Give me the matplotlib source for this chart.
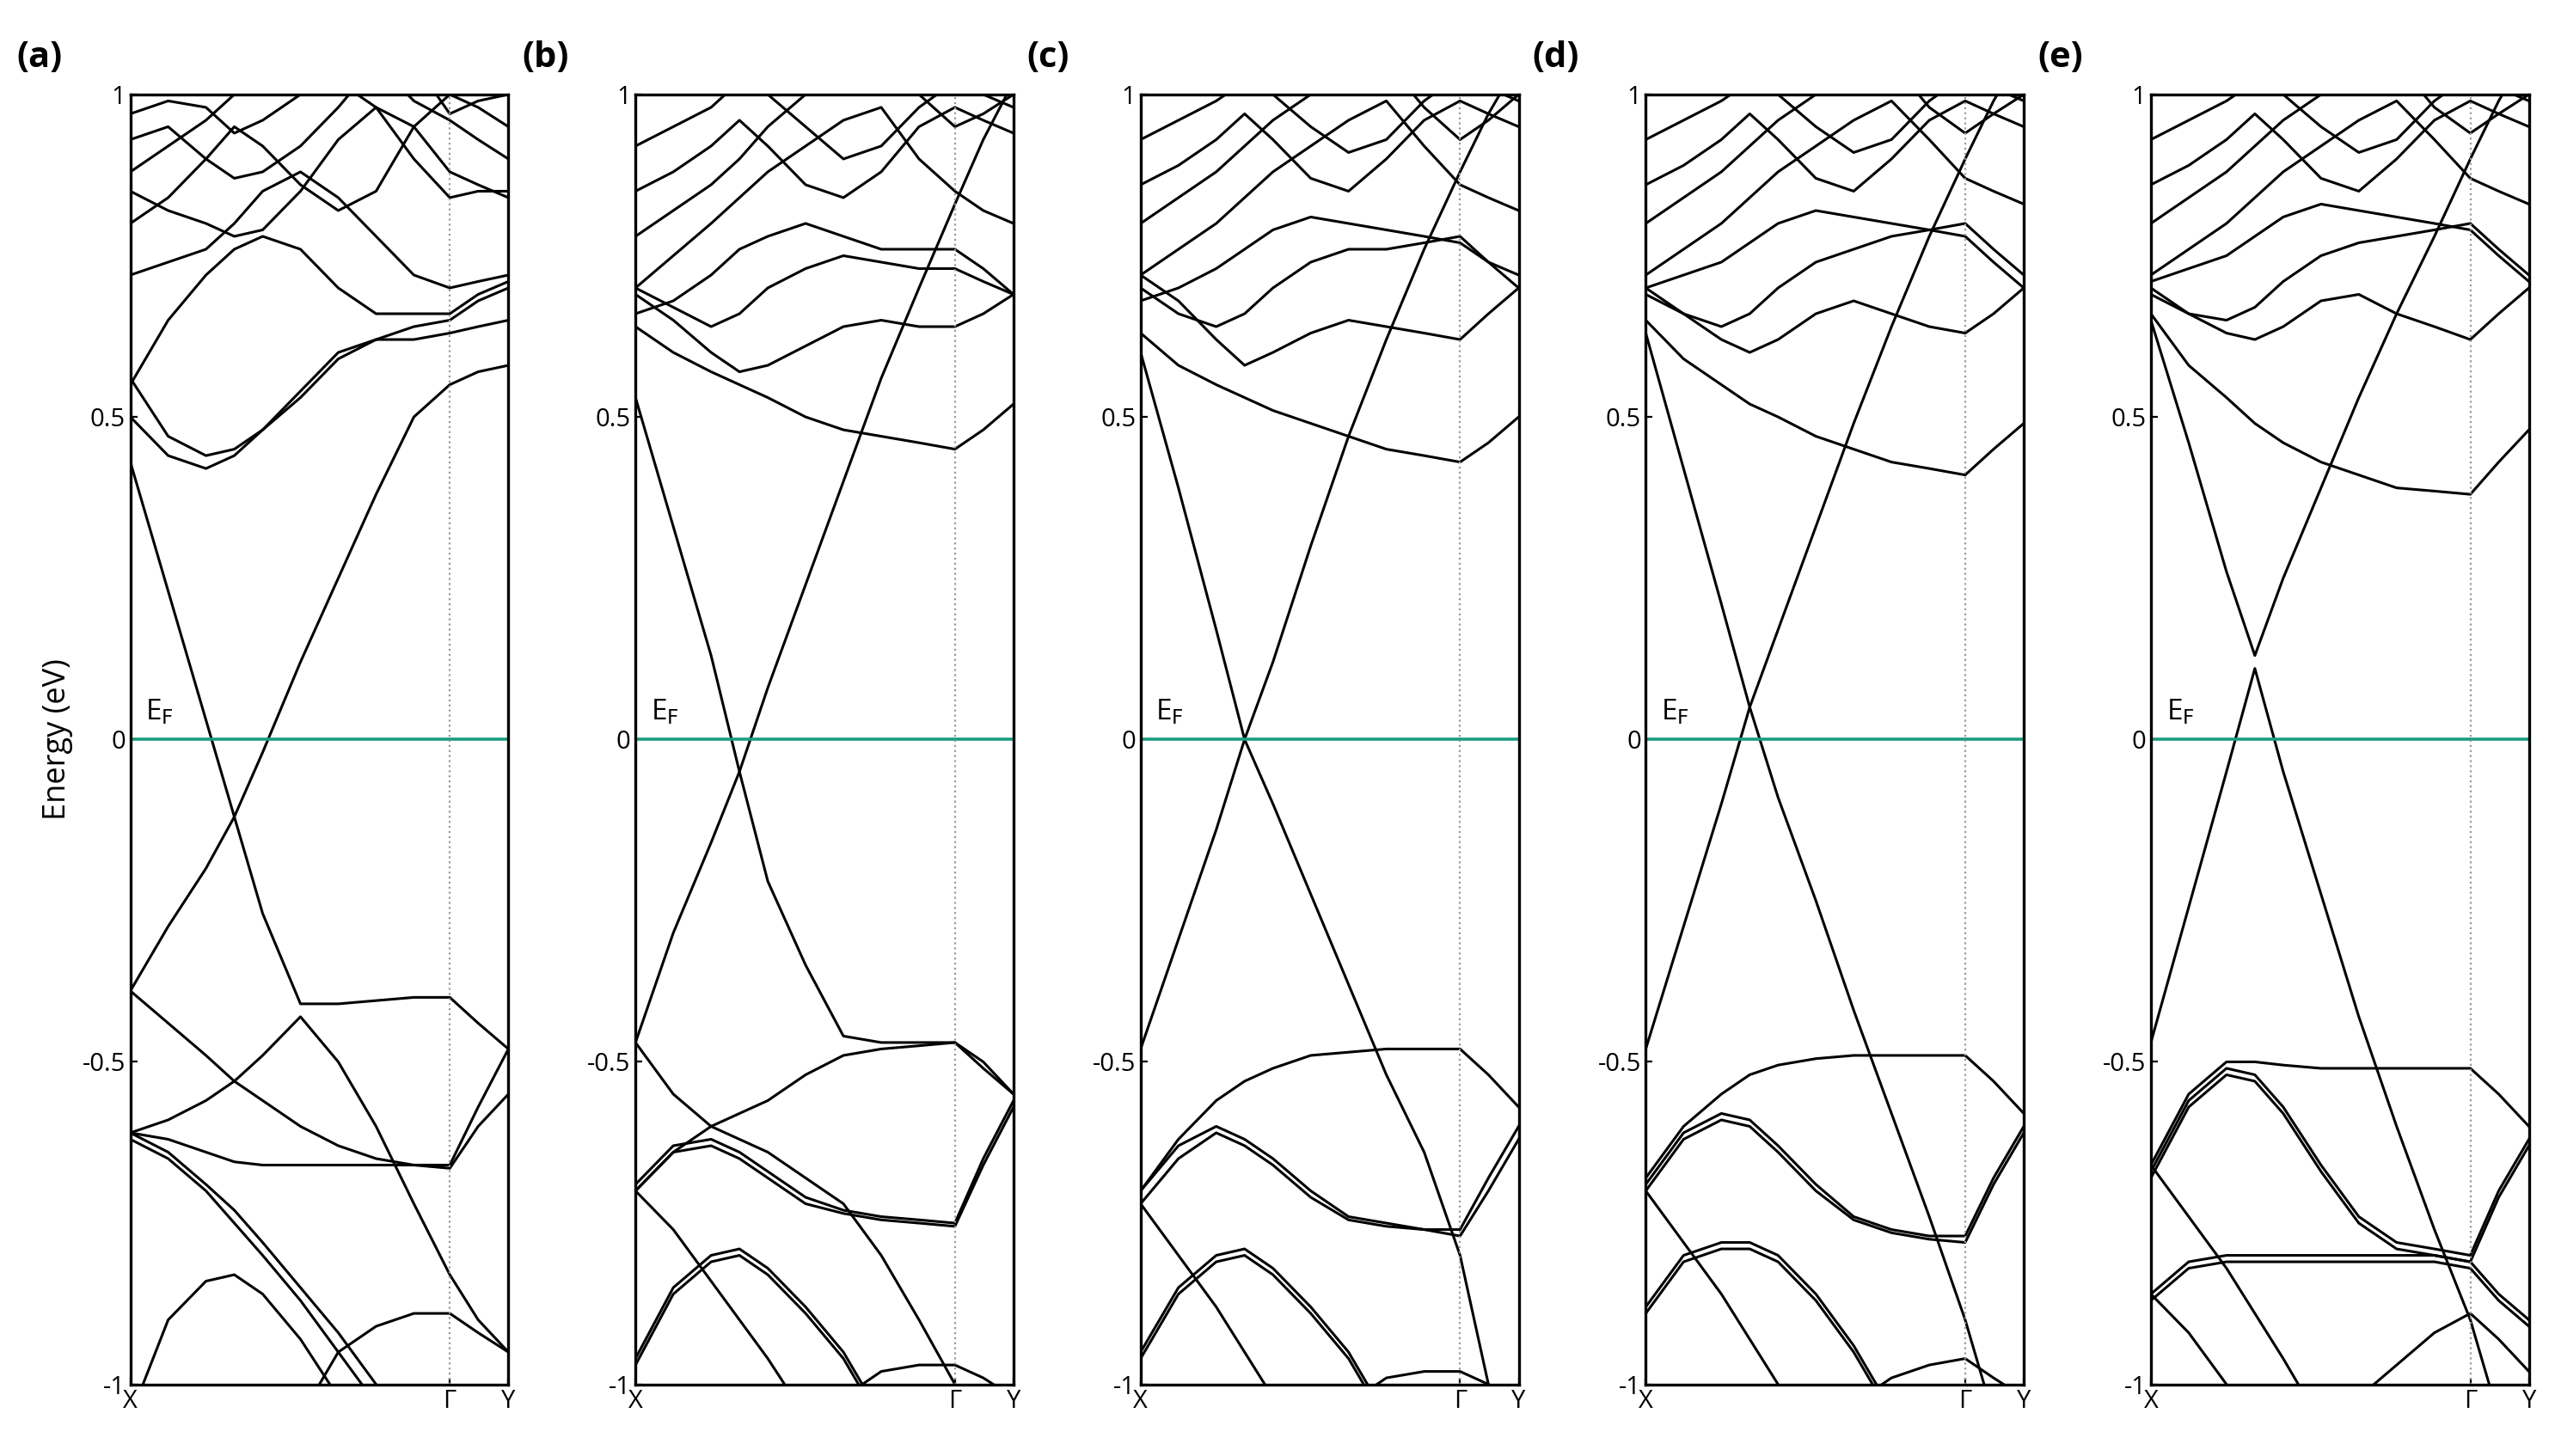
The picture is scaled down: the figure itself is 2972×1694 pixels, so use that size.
import matplotlib
matplotlib.use("Agg")
import matplotlib.pyplot as plt

# k-path grid (fraction of path X -> Gamma -> Y), Gamma at 0.845
K = [0, 0.1, 0.2, 0.275, 0.35, 0.45, 0.55, 0.65, 0.75, 0.845, 0.92, 1.0]
tick_pos = [0, 0.845, 1.0]
tick_lab = ["X", "Γ", "Y"]
panel_labels = ["(a)", "(b)", "(c)", "(d)", "(e)"]

top_a = [
    [0.85, 0.82, 0.80, 0.78, 0.79, 0.85, 0.93, 0.98, 0.90, 0.84, 0.85, 0.85],
    [0.88, 0.92, 0.96, 1.00, 1.05, 1.05, 1.02, 0.98, 0.95, 0.88, 0.86, 0.84],
    [0.80, 0.84, 0.90, 0.95, 0.92, 0.86, 0.82, 0.85, 0.95, 1.00, 0.98, 0.95],
    [0.93, 0.95, 0.90, 0.87, 0.88, 0.92, 0.98, 1.05, 1.05, 0.97, 0.99, 1.00],
    [0.97, 0.99, 0.98, 0.94, 0.96, 1.00, 1.03, 1.05, 0.99, 0.96, 0.93, 0.90],
]
bands_a = [
    [0.43, 0.23, 0.03, -0.12, -0.02, 0.12, 0.25, 0.38, 0.50, 0.55, 0.57, 0.58],
    [-0.39, -0.29, -0.20, -0.12, -0.27, -0.41, -0.41, -0.405, -0.40, -0.40, -0.44, -0.48],
    [-0.39, -0.44, -0.49, -0.53, -0.56, -0.60, -0.63, -0.65, -0.66, -0.66, -0.57, -0.48],
    [-0.61, -0.59, -0.56, -0.53, -0.49, -0.43, -0.50, -0.60, -0.72, -0.83, -0.90, -0.95],
    [-0.61, -0.62, -0.64, -0.655, -0.66, -0.66, -0.66, -0.66, -0.66, -0.665, -0.60, -0.55],
    [-0.61, -0.64, -0.69, -0.73, -0.78, -0.85, -0.92, -1.00, -1.10, -1.2, -1.2, -1.2],
    [-0.62, -0.65, -0.70, -0.75, -0.80, -0.87, -0.95, -1.03, -1.10, -1.2, -1.2, -1.2],
    [-1.05, -0.90, -0.84, -0.83, -0.86, -0.93, -1.02, -1.10, -1.2, -1.2, -1.2, -1.2],
    [-1.2, -1.2, -1.2, -1.15, -1.10, -1.05, -0.95, -0.91, -0.89, -0.89, -0.92, -0.95],
    [0.56, 0.47, 0.44, 0.45, 0.48, 0.53, 0.59, 0.62, 0.64, 0.65, 0.68, 0.70],
    [0.50, 0.44, 0.42, 0.44, 0.48, 0.54, 0.60, 0.62, 0.62, 0.63, 0.64, 0.65],
    [0.55, 0.65, 0.72, 0.76, 0.78, 0.76, 0.70, 0.66, 0.66, 0.66, 0.69, 0.71],
    [0.72, 0.74, 0.76, 0.80, 0.85, 0.88, 0.84, 0.78, 0.72, 0.70, 0.71, 0.72],
] + top_a

top_b = [
    [0.70, 0.75, 0.80, 0.84, 0.88, 0.92, 0.96, 0.98, 0.90, 0.85, 0.82, 0.80],
    [0.78, 0.82, 0.86, 0.90, 0.95, 1.00, 1.04, 1.05, 1.00, 0.95, 0.97, 1.00],
    [0.85, 0.88, 0.92, 0.96, 0.92, 0.86, 0.84, 0.88, 0.95, 0.98, 0.96, 0.94],
    [0.92, 0.95, 0.98, 1.02, 1.00, 0.95, 0.90, 0.92, 0.98, 1.02, 1.00, 0.98],
]
bands_b = [
    [0.53, 0.33, 0.13, -0.05, -0.22, -0.35, -0.46, -0.47, -0.47, -0.47, -0.51, -0.55],
    [-0.47, -0.30, -0.16, -0.05, 0.08, 0.24, 0.40, 0.56, 0.70, 0.83, 0.93, 1.02],
    [0.64, 0.60, 0.57, 0.55, 0.53, 0.50, 0.48, 0.47, 0.46, 0.45, 0.48, 0.52],
    [-0.47, -0.55, -0.60, -0.62, -0.64, -0.68, -0.72, -0.80, -0.90, -1.00, -1.1, -1.2],
    [-0.70, -0.64, -0.60, -0.58, -0.56, -0.52, -0.49, -0.48, -0.475, -0.47, -0.50, -0.55],
    [-0.69, -0.63, -0.62, -0.64, -0.67, -0.71, -0.73, -0.74, -0.745, -0.75, -0.65, -0.56],
    [-0.70, -0.64, -0.63, -0.65, -0.68, -0.72, -0.735, -0.745, -0.75, -0.755, -0.66, -0.57],
    [-0.70, -0.76, -0.84, -0.90, -0.96, -1.05, -1.2, -1.2, -1.2, -1.2, -1.2, -1.2],
    [-0.96, -0.85, -0.80, -0.79, -0.82, -0.88, -0.95, -1.05, -1.2, -1.2, -1.2, -1.2],
    [-0.97, -0.86, -0.81, -0.80, -0.83, -0.89, -0.96, -1.06, -1.2, -1.2, -1.2, -1.2],
    [-1.2, -1.2, -1.2, -1.2, -1.15, -1.08, -1.02, -0.98, -0.97, -0.97, -0.99, -1.02],
    [0.69, 0.65, 0.60, 0.57, 0.58, 0.61, 0.64, 0.65, 0.64, 0.64, 0.66, 0.69],
    [0.70, 0.67, 0.64, 0.66, 0.70, 0.73, 0.75, 0.74, 0.73, 0.73, 0.71, 0.69],
    [0.66, 0.68, 0.72, 0.76, 0.78, 0.80, 0.78, 0.76, 0.76, 0.76, 0.73, 0.69],
] + top_b

top_c = [
    [0.72, 0.76, 0.80, 0.84, 0.88, 0.92, 0.96, 0.99, 0.92, 0.86, 0.84, 0.82],
    [0.80, 0.84, 0.88, 0.92, 0.96, 1.00, 1.05, 1.05, 0.98, 0.93, 0.96, 1.00],
    [0.86, 0.89, 0.93, 0.97, 0.93, 0.87, 0.85, 0.90, 0.96, 0.99, 0.97, 0.95],
    [0.93, 0.96, 0.99, 1.02, 1.00, 0.95, 0.91, 0.93, 0.99, 1.03, 1.01, 0.99],
]
bands_c = [
    [0.60, 0.39, 0.17, 0.0, -0.10, -0.24, -0.38, -0.52, -0.64, -0.80, -1.0, -1.2],
    [-0.48, -0.31, -0.14, 0.0, 0.12, 0.30, 0.47, 0.62, 0.76, 0.88, 0.97, 1.05],
    [0.63, 0.58, 0.55, 0.53, 0.51, 0.49, 0.47, 0.45, 0.44, 0.43, 0.46, 0.50],
    [-0.70, -0.62, -0.56, -0.53, -0.51, -0.49, -0.485, -0.48, -0.48, -0.48, -0.52, -0.57],
    [-0.70, -0.63, -0.60, -0.62, -0.65, -0.70, -0.74, -0.75, -0.76, -0.76, -0.68, -0.60],
    [-0.72, -0.65, -0.61, -0.63, -0.66, -0.71, -0.745, -0.755, -0.76, -0.77, -0.70, -0.62],
    [-0.72, -0.80, -0.88, -0.95, -1.02, -1.2, -1.2, -1.2, -1.2, -1.2, -1.2, -1.2],
    [-0.95, -0.85, -0.80, -0.79, -0.82, -0.88, -0.95, -1.05, -1.2, -1.2, -1.2, -1.2],
    [-0.96, -0.86, -0.81, -0.80, -0.83, -0.89, -0.96, -1.06, -1.2, -1.2, -1.2, -1.2],
    [-1.2, -1.2, -1.2, -1.2, -1.15, -1.08, -1.03, -0.99, -0.98, -0.98, -1.0, -1.03],
    [0.72, 0.68, 0.62, 0.58, 0.60, 0.63, 0.65, 0.64, 0.63, 0.62, 0.66, 0.70],
    [0.70, 0.66, 0.64, 0.66, 0.70, 0.74, 0.76, 0.76, 0.77, 0.78, 0.74, 0.72],
    [0.68, 0.70, 0.73, 0.76, 0.79, 0.81, 0.80, 0.79, 0.78, 0.77, 0.74, 0.70],
] + top_c

top_d = [
    [0.72, 0.76, 0.80, 0.84, 0.88, 0.92, 0.96, 0.99, 0.93, 0.87, 0.85, 0.83],
    [0.80, 0.84, 0.88, 0.92, 0.96, 1.00, 1.05, 1.05, 0.98, 0.94, 0.97, 1.00],
    [0.86, 0.89, 0.93, 0.97, 0.93, 0.87, 0.85, 0.90, 0.96, 0.99, 0.97, 0.95],
    [0.93, 0.96, 0.99, 1.02, 1.00, 0.95, 0.91, 0.93, 0.99, 1.03, 1.01, 0.99],
]
bands_d = [
    [0.63, 0.42, 0.21, 0.05, -0.09, -0.25, -0.42, -0.58, -0.74, -0.90, -1.05, -1.2],
    [-0.48, -0.29, -0.10, 0.05, 0.17, 0.33, 0.49, 0.64, 0.78, 0.90, 0.99, 1.07],
    [0.65, 0.59, 0.55, 0.52, 0.50, 0.47, 0.45, 0.43, 0.42, 0.41, 0.45, 0.49],
    [-0.68, -0.60, -0.55, -0.52, -0.505, -0.495, -0.49, -0.49, -0.49, -0.49, -0.53, -0.58],
    [-0.69, -0.61, -0.58, -0.59, -0.63, -0.69, -0.74, -0.76, -0.77, -0.77, -0.68, -0.60],
    [-0.70, -0.62, -0.59, -0.60, -0.64, -0.70, -0.745, -0.765, -0.775, -0.78, -0.69, -0.61],
    [-0.70, -0.78, -0.86, -0.93, -1.00, -1.2, -1.2, -1.2, -1.2, -1.2, -1.2, -1.2],
    [-0.88, -0.80, -0.78, -0.78, -0.80, -0.86, -0.94, -1.04, -1.2, -1.2, -1.2, -1.2],
    [-0.89, -0.81, -0.79, -0.79, -0.81, -0.87, -0.95, -1.05, -1.2, -1.2, -1.2, -1.2],
    [-1.2, -1.2, -1.2, -1.2, -1.15, -1.08, -1.03, -0.99, -0.97, -0.96, -0.99, -1.02],
    [0.70, 0.66, 0.62, 0.60, 0.62, 0.66, 0.68, 0.66, 0.64, 0.63, 0.66, 0.70],
    [0.69, 0.66, 0.64, 0.66, 0.70, 0.74, 0.76, 0.78, 0.79, 0.80, 0.76, 0.72],
    [0.70, 0.72, 0.74, 0.77, 0.80, 0.82, 0.81, 0.80, 0.79, 0.78, 0.74, 0.70],
] + top_d

top_e = [
    [0.72, 0.76, 0.80, 0.84, 0.88, 0.92, 0.96, 0.99, 0.93, 0.87, 0.85, 0.83],
    [0.80, 0.84, 0.88, 0.92, 0.96, 1.00, 1.05, 1.05, 0.98, 0.94, 0.97, 1.00],
    [0.86, 0.89, 0.93, 0.97, 0.93, 0.87, 0.85, 0.90, 0.96, 0.99, 0.97, 0.95],
    [0.93, 0.96, 0.99, 1.02, 1.00, 0.95, 0.91, 0.93, 0.99, 1.03, 1.01, 0.99],
]
bands_e = [
    [0.65, 0.46, 0.26, 0.13, 0.25, 0.39, 0.53, 0.66, 0.78, 0.90, 0.99, 1.07],
    [-0.47, -0.26, -0.05, 0.11, -0.05, -0.24, -0.43, -0.60, -0.76, -0.90, -1.05, -1.2],
    [0.66, 0.58, 0.53, 0.49, 0.46, 0.43, 0.41, 0.39, 0.385, 0.38, 0.43, 0.48],
    [-0.66, -0.55, -0.50, -0.50, -0.505, -0.51, -0.51, -0.51, -0.51, -0.51, -0.55, -0.60],
    [-0.67, -0.56, -0.51, -0.52, -0.57, -0.66, -0.74, -0.78, -0.79, -0.80, -0.70, -0.62],
    [-0.68, -0.57, -0.52, -0.53, -0.58, -0.67, -0.75, -0.79, -0.80, -0.81, -0.71, -0.63],
    [-0.66, -0.74, -0.82, -0.89, -0.96, -1.06, -1.2, -1.2, -1.2, -1.2, -1.2, -1.2],
    [-0.86, -0.81, -0.80, -0.80, -0.80, -0.80, -0.80, -0.80, -0.80, -0.81, -0.86, -0.90],
    [-0.87, -0.82, -0.81, -0.81, -0.81, -0.81, -0.81, -0.81, -0.81, -0.82, -0.87, -0.91],
    [-0.86, -0.92, -1.00, -1.07, -1.2, -1.2, -1.2, -1.2, -1.2, -1.2, -1.2, -1.2],
    [-1.2, -1.2, -1.2, -1.2, -1.15, -1.08, -1.02, -0.97, -0.92, -0.89, -0.93, -0.98],
    [0.70, 0.66, 0.63, 0.62, 0.64, 0.68, 0.69, 0.66, 0.64, 0.62, 0.66, 0.70],
    [0.69, 0.66, 0.65, 0.67, 0.71, 0.75, 0.77, 0.78, 0.79, 0.80, 0.76, 0.72],
    [0.71, 0.73, 0.75, 0.78, 0.81, 0.83, 0.82, 0.81, 0.80, 0.79, 0.75, 0.71],
] + top_e

all_bands = [bands_a, bands_b, bands_c, bands_d, bands_e]

plt.rcParams['font.family'] = ['Open Sans', 'DejaVu Sans']
fig = plt.figure(figsize=(14.86, 8.47), dpi=200)
lefts = [80, 390, 700, 1010, 1320]
W, H = 1568.0, 894.0
for i, bands in enumerate(all_bands):
    ax = fig.add_axes([lefts[i] / W, 1 - 850 / H, 232 / W, (850 - 58) / H])
    for b in bands:
        ax.plot(K, b, color="black", lw=1.1)
    ax.axhline(0, color="#1a9e80", lw=1.3)
    ax.axvline(0.845, color="#999999", lw=0.8, ls=":")
    ax.set_xlim(0, 1)
    ax.set_ylim(-1, 1)
    ax.set_xticks(tick_pos)
    ax.set_xticklabels(tick_lab)
    ax.set_yticks([-1, -0.5, 0, 0.5, 1])
    ax.set_yticklabels(["-1", "-0.5", "0", "0.5", "1"])
    ax.tick_params(direction="in", length=3, labelsize=10.5, pad=2)
    ax.text(0.04, 0.03, r"E$_\mathrm{F}$", fontsize=12)
    ax.text(-0.3, 1.028, panel_labels[i], transform=ax.transAxes,
            fontsize=15, fontweight="bold", ha="left", va="center")
    for s in ax.spines.values():
        s.set_linewidth(1.2)
    if i == 0:
        ax.set_ylabel("Energy (eV)", fontsize=13)

fig.savefig("out.png", dpi=200)
